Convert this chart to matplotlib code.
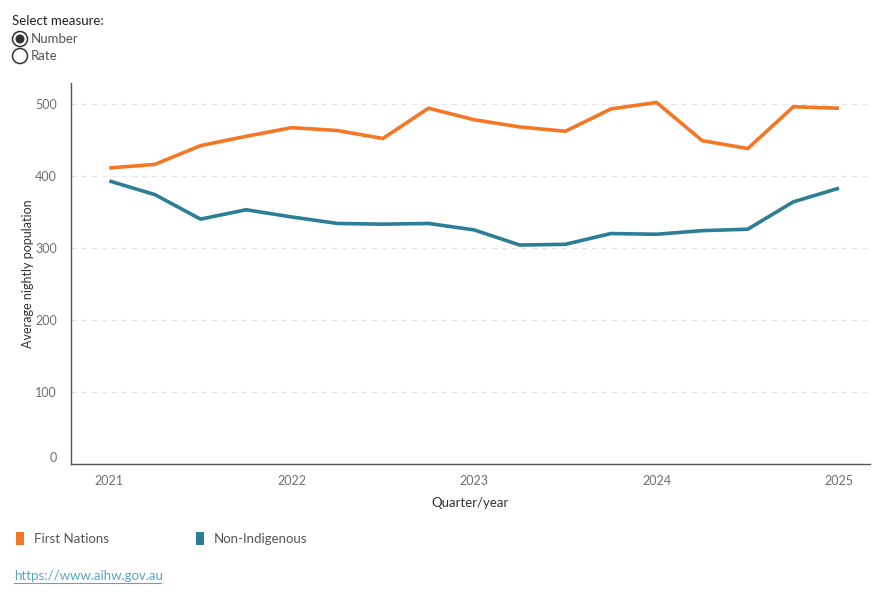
import matplotlib
matplotlib.use("Agg")
import matplotlib.pyplot as plt
from matplotlib.patches import Ellipse, Rectangle

plt.rcParams['font.family'] = ['Lato', 'DejaVu Sans']

# quarterly points, 2021 to 2025 (17 quarters)
quarters = [2021 + i * 0.25 for i in range(17)]
first_nations = [411, 416, 442, 455, 467, 463, 452, 494, 478, 468, 462,
                 493, 502, 449, 438, 496, 494]
non_indigenous = [393, 374, 340, 353, 343, 334, 333, 334, 325, 304, 305,
                  320, 319, 324, 326, 364, 383]
year_ticks = [2021, 2022, 2023, 2024, 2025]
y_ticks = [0, 100, 200, 300, 400, 500]

orange = '#F47725'
teal = '#2B7E96'
grey = '#6e6e6e'

W, H = 890, 600
fig = plt.figure(figsize=(8.9, 6), dpi=100)
ax = fig.add_axes([71 / W, 136 / H, 799 / W, 381 / H])

ax.plot(quarters, first_nations, color=orange, lw=2.6, solid_capstyle='butt')
ax.plot(quarters, non_indigenous, color=teal, lw=2.6, solid_capstyle='butt')

ax.set_xlim(2020.79, 2025.17)
ax.set_ylim(0, 529)
ax.set_xticks(year_ticks)
ax.set_xticklabels([str(y) for y in year_ticks])
ax.set_yticks(y_ticks)
ax.tick_params(length=0, colors=grey, labelsize=9, pad=8)
ax.tick_params(axis='y', pad=10)
for lab in ax.get_yticklabels():
    if lab.get_text() == '0':
        lab.set_va('bottom')
ax.grid(axis='y', color='#e6e6e6', ls=(0, (5, 4)), lw=0.8)
ax.set_axisbelow(True)
for s in ['top', 'right']:
    ax.spines[s].set_visible(False)
for s in ['left', 'bottom']:
    ax.spines[s].set_color('#555555')
    ax.spines[s].set_linewidth(1)

ax.set_ylabel('Average nightly population', fontsize=9, color='#333333')
ax.yaxis.set_label_coords(-37 / 799, 0.5)
ax.set_xlabel('Quarter/year', fontsize=9.5, color='#333333', labelpad=7)

# measure selector
fig.text(12 / W, 1 - 21 / H, 'Select measure:', fontsize=9.5, color='#222222', va='center')
for i, lab in enumerate(['Number', 'Rate']):
    cy = 1 - (39 + 17 * i) / H
    fig.add_artist(Ellipse((20 / W, cy), 15 / W, 15 / H, transform=fig.transFigure,
                           facecolor='white', edgecolor='#333333', lw=1.1))
    fig.text(31 / W, cy, lab, fontsize=9.5, color='#555555', va='center')
cy = 1 - 39 / H
fig.add_artist(Ellipse((20 / W, cy), 9 / W, 9 / H, transform=fig.transFigure,
                       facecolor='#333333', edgecolor='none'))

# legend
for x0, col, lab in [(16, orange, 'First Nations'), (196, teal, 'Non-Indigenous')]:
    fig.add_artist(Rectangle((x0 / W, 1 - 545 / H), 8 / W, 13 / H,
                             transform=fig.transFigure, facecolor=col, edgecolor='none'))
    fig.text((x0 + 18) / W, 1 - 539 / H, lab, fontsize=9.5, color='#555555', va='center')

fig.text(14 / W, 1 - 576 / H, 'https://www.aihw.gov.au', fontsize=9.5,
         color='#5aa6c8', va='center')
fig.add_artist(plt.Line2D([14 / W, 161 / W], [1 - 583 / H, 1 - 583 / H],
                          transform=fig.transFigure, color='#5aa6c8', lw=0.8))

fig.savefig('out.png', dpi=100)
